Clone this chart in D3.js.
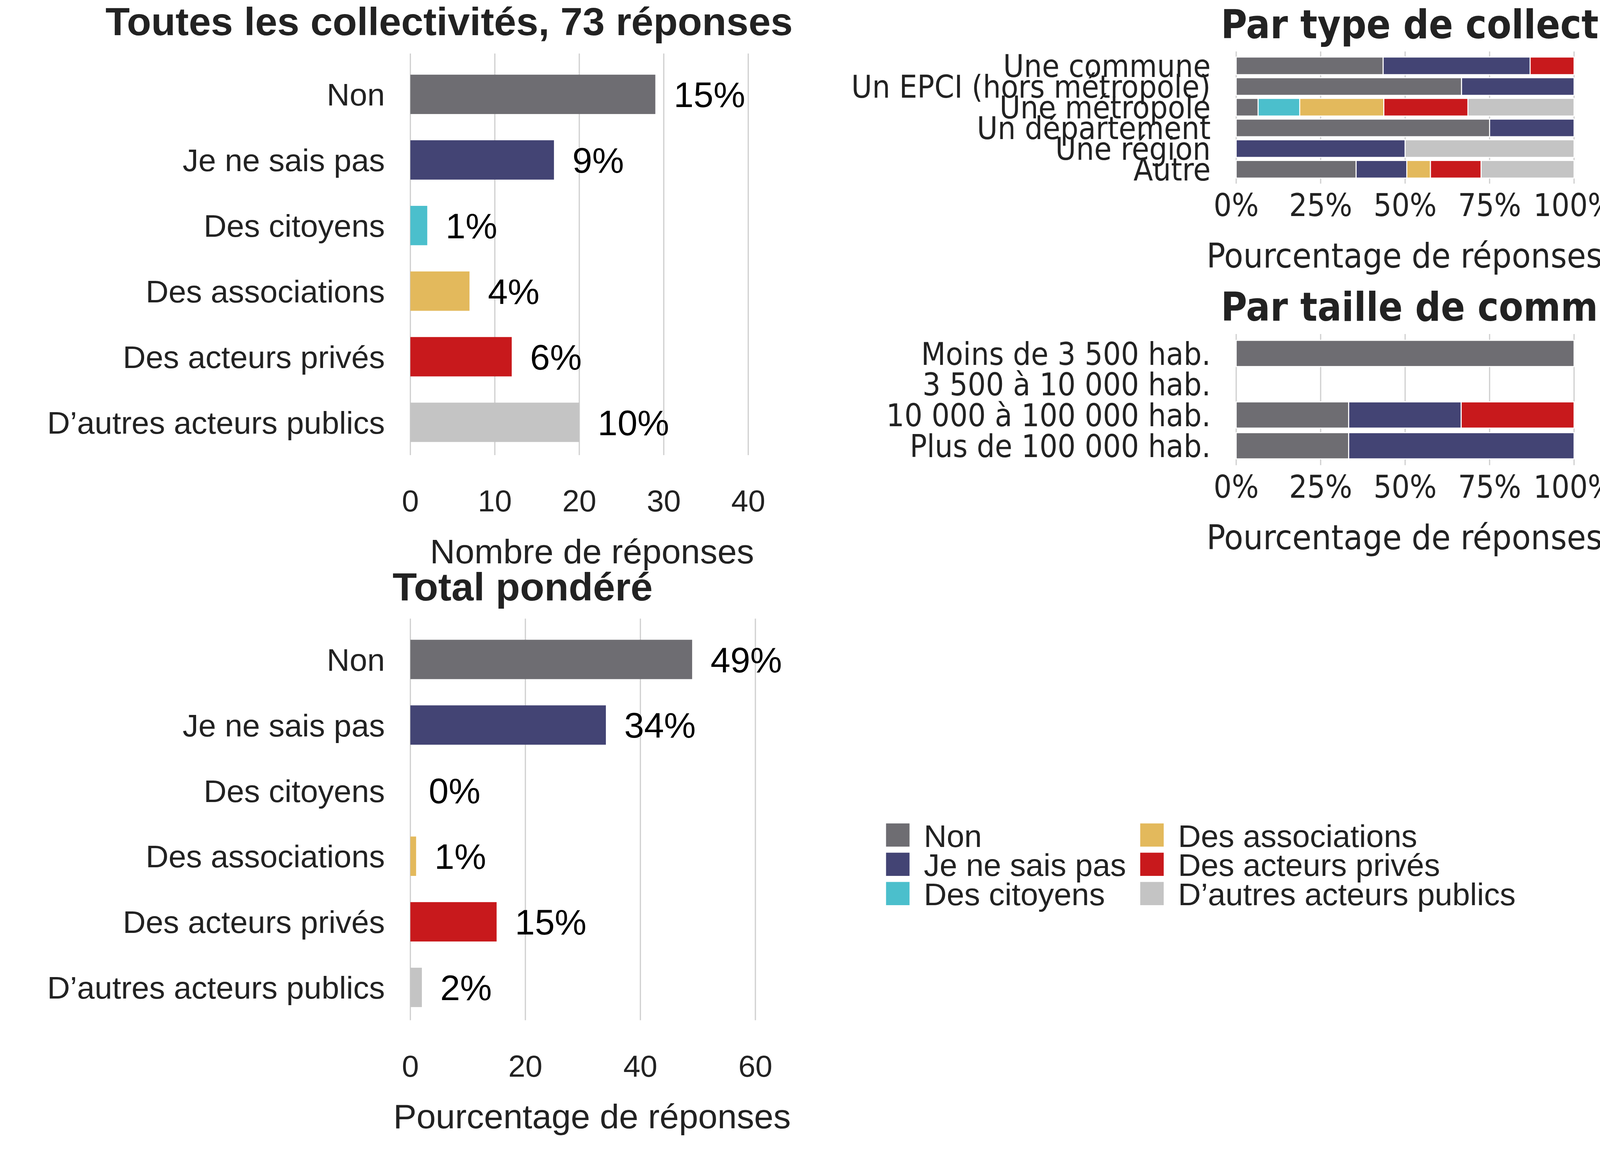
<!DOCTYPE html>
<html><head><meta charset="utf-8">
<script src="https://cdn.jsdelivr.net/npm/d3@7"></script>
<style>body{margin:0;background:#fff}</style></head>
<body><svg id="c" width="4200" height="3000"></svg>
<script>
const answers = ["Non","Je ne sais pas","Des citoyens","Des associations","Des acteurs privés","D’autres acteurs publics"];
const colors = ["#6e6d72","#434474","#4bbfcc","#e3b95c","#c8191c","#c4c4c4"];
const countValues = [29,17,2,7,12,20];
const countLabels = ["15%","9%","1%","4%","6%","10%"];
const countTicks = [0,10,20,30,40];
const weightedValues = [49,34,0,1,15,2];
const weightedLabels = ["49%","34%","0%","1%","15%","2%"];
const weightedTicks = [0,20,40,60];
const typeCats = ["Une commune","Un EPCI (hors métropole)","Une métropole","Un département","Une région","Autre"];
const typeShares = [
  [43.5,43.5,0,0,13,0],
  [66.7,33.3,0,0,0,0],
  [6.5,0,12.3,24.9,24.9,31.4],
  [75,25,0,0,0,0],
  [0,50,0,0,0,50],
  [35.5,15,0,7,15,27.5]
];
const sizeCats = ["Moins de 3 500 hab.","3 500 à 10 000 hab.","10 000 à 100 000 hab.","Plus de 100 000 hab."];
const sizeShares = [
  [100,0,0,0,0,0],
  [0,0,0,0,0,0],
  [33.3,33.3,0,0,33.4,0],
  [33.3,66.7,0,0,0,0]
];
const pctTicks = [0,25,50,75,100];

const S = 4200/1568;
const svg = d3.select("#c");
const g = svg.append("g").attr("transform",`scale(${S/1.025},${S/1.037})`);
const F = "Liberation Sans, Arial, sans-serif";
const FN = "'Liberation Sans Narrow', 'DejaVu Sans Condensed', sans-serif";

function hbar(o){
  const x = d3.scaleLinear().domain([0,o.max]).range([402,o.x1]);
  const y = d3.scaleBand().domain(answers).range([o.top,o.bottom]).paddingInner(0.4).paddingOuter(0.2);
  const p = g.append("g");
  p.selectAll(".gl").data(o.ticks).join("line").attr("x1",d=>x(d)).attr("x2",d=>x(d))
    .attr("y1",o.top-8).attr("y2",o.bottom).attr("stroke","#d0d0d0").attr("stroke-width",1.2);
  p.selectAll("rect").data(o.vals).join("rect").attr("x",x(0)).attr("y",(d,i)=>y(answers[i]))
    .attr("width",d=>x(d)-x(0)).attr("height",y.bandwidth()).attr("fill",(d,i)=>colors[i]);
  p.selectAll(".vl").data(o.vals).join("text").attr("x",d=>x(d)+18).attr("y",(d,i)=>y(answers[i])+y.bandwidth()/2)
    .attr("dy","0.36em").attr("font-family",F).attr("font-size",35).attr("fill","#000").text((d,i)=>o.labels[i]);
  p.selectAll(".cl").data(answers).join("text").attr("x",377).attr("y",d=>y(d)+y.bandwidth()/2)
    .attr("dy","0.36em").attr("text-anchor","end").attr("font-family",F).attr("font-size",31).attr("fill","#222").text(d=>d);
  p.selectAll(".tk").data(o.ticks).join("text").attr("x",d=>x(d)).attr("y",o.bottom+45).attr("dy","0.36em")
    .attr("text-anchor","middle").attr("font-family",F).attr("font-size",30).attr("fill","#222").text(d=>d);
  p.append("text").attr("x",580).attr("y",o.bottom+95).attr("dy","0.36em").attr("text-anchor","middle")
    .attr("font-family",F).attr("font-size",34).attr("fill","#222").text(o.xtitle);
  p.append("text").attr("x",o.tx).attr("y",o.top-30).attr("dy","0.1em").attr("text-anchor","middle")
    .attr("font-family",F).attr("font-weight","bold").attr("font-size",39).attr("fill","#222").text(o.title);
}
hbar({max:40,x1:733,top:61,bottom:451,ticks:countTicks,vals:countValues,labels:countLabels,
  xtitle:"Nombre de réponses",title:"Toutes les collectivités, 73 réponses",tx:440});
hbar({max:60,x1:740,top:621,bottom:1011,ticks:weightedTicks,vals:weightedValues,labels:weightedLabels,
  xtitle:"Pourcentage de réponses",title:"Total pondéré",tx:512});

function stack(o){
  const x = d3.scaleLinear().domain([0,100]).range([1211,1542]);
  const y = d3.scaleBand().domain(o.cats).range([o.top,o.bottom]).paddingInner(o.pad).paddingOuter(o.pad/2);
  const p = g.append("g");
  p.selectAll(".gl").data(pctTicks).join("line").attr("x1",d=>x(d)).attr("x2",d=>x(d))
    .attr("y1",o.top-4).attr("y2",o.bottom+4).attr("stroke","#d0d0d0").attr("stroke-width",1.2);
  o.cats.forEach((c,ci)=>{
    let acc=0;
    o.shares[ci].forEach((v,si)=>{
      if(v>0){
        p.append("rect").attr("x",x(acc)).attr("y",y(c)).attr("width",x(acc+v)-x(acc)).attr("height",y.bandwidth())
          .attr("fill",colors[si]).attr("stroke","#fff").attr("stroke-width",1);
      }
      acc+=v;
    });
  });
  p.selectAll(".cl").data(o.cats).join("text").attr("x",1186).attr("y",d=>y(d)+y.bandwidth()/2).attr("dy","0.36em")
    .attr("text-anchor","end").attr("font-family",FN).attr("font-size",31).attr("fill","#222").text(d=>d);
  p.selectAll(".tk").data(pctTicks).join("text").attr("x",d=>x(d)).attr("y",o.bottom+25).attr("dy","0.36em")
    .attr("text-anchor","middle").attr("font-family",FN).attr("font-size",31).attr("fill","#222").text(d=>d+"%");
  p.append("text").attr("x",1182).attr("y",o.bottom+75).attr("dy","0.36em")
    .attr("font-family",FN).attr("font-size",34).attr("fill","#222").text("Pourcentage de réponses");
  p.append("text").attr("x",1196).attr("y",o.ty).attr("dy","0.36em")
    .attr("font-family",FN).attr("font-weight","bold").attr("font-size",39).attr("fill","#222").text(o.title);
}
stack({cats:typeCats,shares:typeShares,top:55,bottom:178,pad:0.15,ty:24,title:"Par type de collectivité"});
stack({cats:sizeCats,shares:sizeShares,top:335,bottom:457,pad:0.15,ty:304,title:"Par taille de commune"});

const lg = g.append("g");
answers.forEach((a,i)=>{
  const col = Math.floor(i/3), row = i%3;
  const lx = col? 1117:868, ly = 816+row*29;
  lg.append("rect").attr("x",lx).attr("y",ly).attr("width",23).attr("height",23).attr("fill",colors[i]);
  lg.append("text").attr("x",lx+37).attr("y",ly+12).attr("dy","0.36em").attr("font-family",F)
    .attr("font-size",31).attr("fill","#222").text(a);
});
</script></body></html>
